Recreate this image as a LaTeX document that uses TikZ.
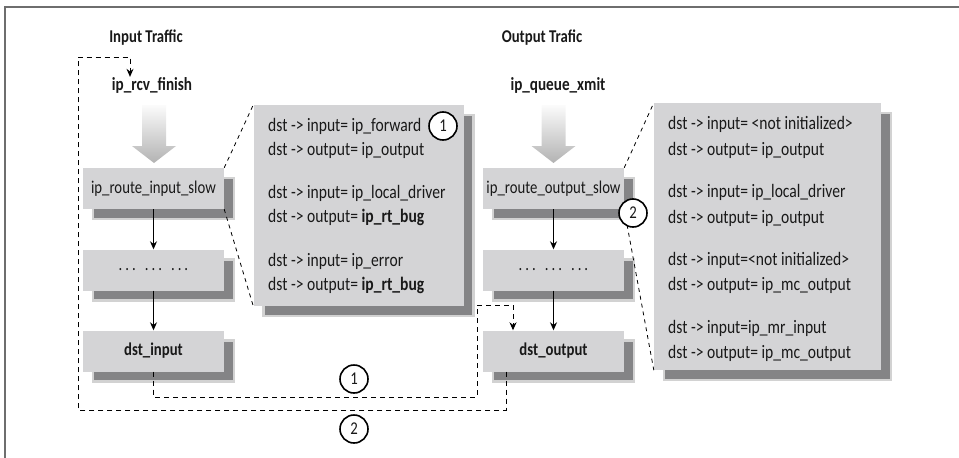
\documentclass[tikz,border=0pt]{standalone}
\usepackage{fontspec}
\setmainfont{Carlito}[FakeStretch=0.82]
\usepackage{xcolor}
\usetikzlibrary{arrows.meta,shadows}

\definecolor{boxfill}{RGB}{212,212,214}
\definecolor{shadowgray}{RGB}{132,132,134}
\definecolor{framegray}{RGB}{110,110,110}

% big shaded arrow, tail centre given
\newcommand{\fatarrow}[1]{%
\shade[top color=gray!3,bottom color=gray!60]
(#1) ++(-12,0) -- ++(24,0) -- ++(0,41) -- ++(10,0)
-- ++(-22,17) -- ++(-22,-17) -- ++(10,0) -- cycle;}

\begin{document}
\begin{tikzpicture}[
x=1pt,y=-1pt,
>={Stealth[length=8pt,width=7pt]},
every node/.style={font=\fontsize{19}{21}\selectfont,text=black!90},
title/.style={font=\bfseries\fontsize{18}{20}\selectfont,inner sep=0pt},
fname/.style={font=\bfseries\fontsize{18.5}{20}\selectfont,inner sep=0pt},
box/.style={rectangle,fill=boxfill,minimum width=141pt,minimum height=41pt,inner sep=0pt,
  font=\fontsize{18}{20}\selectfont,
  drop shadow={shadow xshift=10pt,shadow yshift=-10pt,opacity=1,fill=shadowgray,draw=gray!35,line width=2.5pt}},
infobox/.style={box,minimum width=#1},
infoline/.style={anchor=west,inner sep=0pt},
nummark/.style={circle,draw,fill=white,line width=1.6pt,minimum size=28pt,inner sep=0pt,
  font=\fontsize{18}{20}\selectfont},
flow/.style={->,line width=1pt},
route/.style={->,line width=1pt,dash pattern=on 5pt off 4pt},
zoomline/.style={line width=0.8pt,dash pattern=on 4pt off 4pt}
]
\useasboundingbox (0,0) rectangle (959,458);

% frame
\draw[framegray,line width=1.5pt] (5,458) -- (5,7) -- (959,7);

% Input side
\node[title] (intitle) at (146,38) {Input Traffic};
\node[fname] (rcv) at (152,85) {ip\_rcv\_finish};
\fatarrow{154,105}
\node[box] (routein) at (153.5,188.5) {ip\_route\_input\_slow};
\node[box] (dotsin) at (153.5,270) {.\,.\,.\enspace.\,.\,.\enspace.\,.\,.};
\node[box,font=\bfseries\fontsize{18}{20}\selectfont] (dstin) at (153.5,351) {dst\_input};

\draw[flow] (routein) -- (dotsin);
\draw[flow] (dotsin) -- (dstin);

% Output side
\node[title] (outtitle) at (542,38) {Output Trafic};
\node[fname] (xmit) at (558,85) {ip\_queue\_xmit};
\fatarrow{553.5,105}
\node[box] (routeout) at (553.5,188.5) {ip\_route\_output\_slow};
\node[box] (dotsout) at (553.5,270) {.\,.\,.\enspace.\,.\,.\enspace.\,.\,.};
\node[box,font=\bfseries\fontsize{18}{20}\selectfont] (dstout) at (553.5,351) {dst\_output};

\draw[flow] (routeout) -- (dotsout);
\draw[flow] (dotsout) -- (dstout);

% Tables
\node[infobox=210pt,minimum height=201pt] (infoin) at (358.5,205.5) {};
\node[infobox=227pt,minimum height=267pt] (infoout) at (767.5,236.5) {};

\draw[zoomline] (routein.north east) -- (infoin.north west);
\draw[zoomline] (routein.south east) -- (infoin.south west);
\draw[zoomline] (routeout.north east) -- (infoout.north west);
\draw[zoomline] (routeout.south east) -- (infoout.south west);

\foreach \y/\t [count=\i] in {126/{dst -> input= ip\_forward},
  150/{dst -> output= ip\_output},
  193/{dst -> input= ip\_local\_driver},
  217/{dst -> output= \textbf{ip\_rt\_bug}},
  261/{dst -> input= ip\_error},
  285/{dst -> output= \textbf{ip\_rt\_bug}}}
  \node[infoline] (inl\i) at (268,\y) {\t};

\foreach \y/\t [count=\i] in {124/{dst -> input= <not initialized>},
  150/{dst -> output= ip\_output},
  192/{dst -> input= ip\_local\_driver},
  218/{dst -> output= ip\_output},
  260/{dst -> input=<not initialized>},
  285/{dst -> output= ip\_mc\_output},
  328/{dst -> input=ip\_mr\_input},
  353/{dst -> output= ip\_mc\_output}}
  \node[infoline] (outl\i) at (668,\y) {\t};

% Routes
\coordinate (c1a) at (477,397);
\coordinate (c1b) at (477,305);
\coordinate (c2a) at (78,410);
\coordinate (c2b) at (78,57);

\draw[route] (dstin.south) |- (c1a) -- (c1b) -| ([xshift=-40.5pt]dstout.north);
\draw[route] ([xshift=-47.5pt]dstout.south) |- (c2a) -- (c2b) -| ([xshift=-22pt]rcv.north);

\node[nummark] (m1) at (354,379) {1};
\node[nummark] (m2) at (354,429) {2};
\node[nummark] (m1b) at (443,126) {1};
\node[nummark] (m2b) at (633,213) {2};

\end{tikzpicture}
\end{document}
